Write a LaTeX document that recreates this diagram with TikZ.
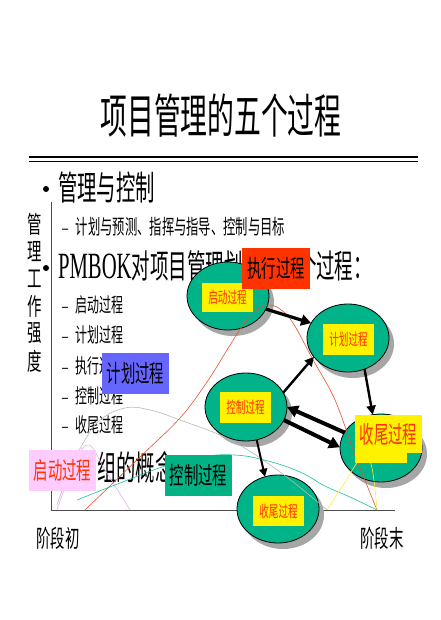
\documentclass[tikz,border=0pt]{standalone}
\usepackage{fontspec}
\setmainfont{Liberation Serif}
\newfontfamily\cjk{Noto Sans CJK SC}
\usetikzlibrary{shapes.geometric,shadows,arrows.meta}
\definecolor{ellc}{RGB}{0,179,136}
\definecolor{boxgreen}{RGB}{0,178,132}
\definecolor{boxred}{RGB}{255,51,0}
\definecolor{boxblue}{RGB}{102,102,255}
\definecolor{boxpink}{RGB}{255,204,255}
\definecolor{labred}{RGB}{255,51,0}
\definecolor{cred}{RGB}{232,84,48}
\definecolor{cteal}{RGB}{32,190,160}
\definecolor{cgray}{RGB}{185,185,185}
\definecolor{cyel}{RGB}{250,240,70}
\definecolor{cpink}{RGB}{230,175,230}
\newcommand{\fs}[1]{\fontsize{#1}{#1}\selectfont}
\newcommand{\sqz}[2][0.6]{\scalebox{#1}[1]{#2}}
\begin{document}
\begin{tikzpicture}[x=1pt,y=-1pt,
  txt/.style={inner sep=0, outer sep=0, anchor=west, font=\cjk},
  proc/.style={ellipse, draw=black, line width=0.8pt, fill=ellc, minimum width=82pt, minimum height=68pt, inner sep=0, outer sep=0,
     drop shadow={shadow xshift=5pt, shadow yshift=-6pt, fill=black!35, opacity=1}},
  ylab/.style={fill=yellow, inner sep=0, minimum width=51pt, minimum height=30pt, font=\cjk\fs{16}, text=labred},
  over/.style={inner sep=0, minimum width=67pt, minimum height=41pt, font=\cjk\fs{24}},
  arr/.style={-{Triangle[length=9pt,width=9pt]}, black},
  crv/.style={line width=0.6pt}
]
\useasboundingbox (0,0) rectangle (440,620);
\fill[white] (0,0) rectangle (440,620);

% title and rule
\node[inner sep=0, font=\cjk\fs{47}] (title) at (221,116) {\sqz[0.57]{项目管理的五个过程}};
\draw[line width=2.2pt] (29,157) -- (418,157);
\draw[line width=1pt] (29,161.5) -- (418,161.5);

% bullets and texts
\node[circle, fill=black, inner sep=0, minimum size=6pt] (b1) at (46,189) {};
\node[txt, font=\cjk\fs{34}] (t1) at (58,188) {\sqz[0.57]{管理与控制}};
\node[txt, font=\cjk\fs{20.5}] (t2) at (62,227) {\sqz{{\rmfamily –}\hspace{13pt}计划与预测、指挥与指导、控制与目标}};
\node[circle, fill=black, inner sep=0, minimum size=6pt] (b2) at (46,268) {};
\node[inner sep=0, outer sep=0, anchor=base west] (t3) at (58,278) {\scalebox{0.56}[1]{\fs{37}PMBOK{\cjk\fs{33}对项目管理划分为五个过程：}}};
\node[txt, font=\cjk\fs{20}] (l1) at (62,305) {\sqz{{\rmfamily –}\hspace{13pt}启动过程}};
\node[txt, font=\cjk\fs{20}] (l2) at (62,335) {\sqz{{\rmfamily –}\hspace{13pt}计划过程}};
\node[txt, font=\cjk\fs{20}] (l3) at (62,366) {\sqz{{\rmfamily –}\hspace{13pt}执行过程}};
\node[txt, font=\cjk\fs{20}] (l4) at (62,396) {\sqz{{\rmfamily –}\hspace{13pt}控制过程}};
\node[txt, font=\cjk\fs{20}] (l5) at (62,425) {\sqz{{\rmfamily –}\hspace{13pt}收尾过程}};
\node[txt, font=\cjk\fs{34}] (t4) at (97,467) {\sqz[0.57]{组的概念}};

% vertical axis label
\foreach \c [count=\i] in {管,理,工,作,强,度}
  \node[inner sep=0, font=\cjk\fs{24}] (v\i) at (35,{224+27.4*(\i-1)}) {\sqz{\c}};

% axes
\draw[black!70, line width=0.7pt] (51,202) -- (51,510) -- (395,510);
\node[inner sep=0, font=\cjk\fs{24}] (a1) at (58,538) {\sqz{阶段初}};
\node[inner sep=0, font=\cjk\fs{24}] (a2) at (382,538) {\sqz{阶段末}};

% process ellipses
\node[proc] (e1) at (228,296) {};
\node[proc] (e2) at (348,338) {};
\node[proc] (e3) at (246,407) {};
\node[proc] (e4) at (381,448) {};
\node[proc] (e5) at (278,509) {};

% curves
\draw[crv, cpink] plot[smooth, tension=0.7] coordinates {(57,510) (72,470) (88,445) (105,470) (130,510)};
\draw[crv, cgray] plot[smooth, tension=0.7] coordinates {(57,505) (70,470) (85,440) (100,420) (125,408) (150,410) (180,420) (230,440) (280,472) (327,510)};
\draw[crv, cteal] plot[smooth, tension=0.7] coordinates {(77,500) (120,483) (165,466) (200,457) (235,455) (268,461) (300,472) (325,486) (350,497) (377,510)};
\draw[crv, cred] plot[smooth, tension=0.6] coordinates {(85,510) (140,457) (180,418) (207,382) (227,350) (245,322) (258,309) (268,305) (280,309) (293,323) (312,358) (335,400) (355,455) (377,510)};
\draw[crv, cyel] plot[smooth, tension=0.7] coordinates {(327,510) (345,482) (357,463) (365,457) (372,468) (377,510)};

% labels on ellipses
\node[ylab, minimum height=29pt] (y1) at (227.5,297.5) {\sqz{启动过程}};
\node[ylab, minimum height=31pt] (y2) at (348.5,339.5) {\sqz{计划过程}};
\node[ylab, minimum height=31pt] (y3) at (245.5,407.5) {\sqz{控制过程}};
\node[ylab] (y5) at (278.5,511) {\sqz{收尾过程}};
\fill[yellow] (355,452) rectangle (407,463);
\node[ylab, minimum width=67pt, minimum height=38pt, font=\cjk\fs{24}] (y4) at (388.5,434) {\sqz{收尾过程}};

% arrows
\draw[arr, line width=3.2pt, -{Triangle[length=10pt,width=11pt]}] (e1.-19) -- (e2.158);
\draw[arr, line width=2.4pt] (e2.-62) -- (e4.104);
\draw[arr, line width=2.4pt] (e3.21) -- (e2.209);
\draw[arr, line width=4pt, -{Triangle[length=11pt,width=12pt]}] (e4.157) -- (e3.0);
\draw[arr, line width=4pt, -{Triangle[length=11pt,width=12pt]}] (e3.-19) -- (e4.179);
\draw[arr, line width=2pt, -{Triangle[length=8pt,width=8pt]}] (e3.-72) -- (e5.112);

% overlay boxes
\node[over, fill=boxred, minimum width=68pt] (ox) at (276,268.5) {\sqz{执行过程}};
\node[over, fill=boxblue] (oj) at (135.5,373.5) {\sqz{计划过程}};
\node[over, fill=boxpink, text=labred] (oq) at (62.5,470.5) {\sqz{启动过程}};
\node[over, fill=boxgreen] (ok) at (198.5,475.5) {\sqz{控制过程}};
\end{tikzpicture}
\end{document}
